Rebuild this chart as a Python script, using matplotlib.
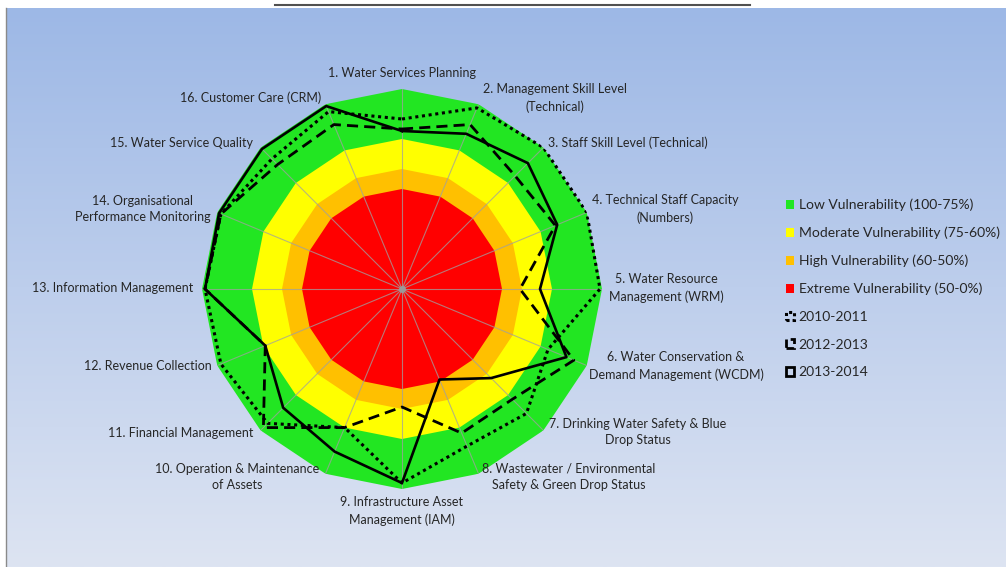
import numpy as np
import matplotlib
matplotlib.use("Agg")
import matplotlib.pyplot as plt
from matplotlib.patches import Patch
from matplotlib.lines import Line2D

W, H = 1006, 567

categories = [
    "1. Water Services Planning",
    "2. Management Skill Level\n(Technical)",
    "3. Staff Skill Level (Technical)",
    "4. Technical Staff Capacity\n(Numbers)",
    "5. Water Resource\nManagement (WRM)",
    "6. Water Conservation &\nDemand Management (WCDM)",
    "7. Drinking Water Safety & Blue\nDrop Status",
    "8. Wastewater / Environmental\nSafety & Green Drop Status",
    "9. Infrastructure Asset\nManagement (IAM)",
    "10. Operation & Maintenance\nof Assets",
    "11. Financial Management",
    "12. Revenue Collection",
    "13. Information Management",
    "14. Organisational\nPerformance Monitoring",
    "15. Water Service Quality",
    "16. Customer Care (CRM)",
]

scores_2010_2011 = [85, 98, 100, 100, 99, 79, 88, 85, 97, 75, 95, 98, 98.5, 98, 92, 96]
scores_2012_2013 = [80, 89, 80, 83, 59, 93, 78, 78, 59, 75, 98, 74, 98.5, 98, 88, 89]
scores_2013_2014 = [79, 84, 89, 84, 69, 89, 63, 49, 97, 88, 84, 74, 98.5, 99, 99, 99]

band_labels = ["Low Vulnerability (100-75%)", "Moderate Vulnerability (75-60%)",
               "High Vulnerability (60-50%)", "Extreme Vulnerability (50-0%)"]
band_upper = [100, 75, 60, 50]
band_colors = ["#22E622", "#FFFF00", "#FFC000", "#FF0000"]

series_labels = ["2010-2011", "2012-2013", "2013-2014"]

# label anchor points (pixels, centre of text block)
label_pos = [(402, 73), (555, 98), (628, 143), (665, 209), (666, 288), (676, 366),
             (638, 432), (569, 477), (402, 511), (237, 477), (181, 433), (148, 366),
             (113, 288), (143, 209), (182, 143), (251, 98)]

fig = plt.figure(figsize=(W / 100, H / 100), dpi=100)
fig.patch.set_facecolor("white")

# gradient backdrop
bg = fig.add_axes([6 / W, 0, 1 - 6 / W, (H - 8) / H])
top = np.array([157, 184, 230]) / 255
bot = np.array([221, 228, 242]) / 255
t = np.linspace(0, 1, 256)[:, None]
grad = top[None, :] * (1 - t) + bot[None, :] * t
bg.imshow(grad[:, None, :], aspect="auto", extent=[0, 1, 0, 1])
bg.set_axis_off()
fig.add_artist(Line2D([6 / W, 6 / W], [0, (H - 8) / H], color="#8a8a8a", lw=1))
fig.add_artist(Line2D([275 / W, 750 / W], [1 - 5 / H, 1 - 5 / H], color="#505050", lw=1.5))

# radar axes: centre (402, 289), radius 200 px
cx, cy, R = 402, 289, 200
ax = fig.add_axes([(cx - R) / W, 1 - (cy + R) / H, 2 * R / W, 2 * R / H], projection="polar")
ax.set_theta_zero_location("N")
ax.set_theta_direction(-1)
ax.set_ylim(0, 100)
ax.set_axis_off()

n = len(categories)
theta = np.linspace(0, 2 * np.pi, n, endpoint=False)
theta_c = np.append(theta, theta[0])

for lvl, col in zip(band_upper, band_colors):
    ax.fill(theta_c, [lvl] * (n + 1), color=col, lw=0, zorder=1)

for th in theta:
    ax.plot([th, th], [0, 100], color="#a0a0a0", lw=0.8, alpha=0.75, zorder=2)
ax.plot([0], [0], "o", color="#9a9a9a", ms=4, zorder=2)

def closed(v):
    return list(v) + [v[0]]

ax.plot(theta_c, closed(scores_2010_2011), color="black", lw=2.2, ls=(0, (1, 1.2)), zorder=3)
ax.plot(theta_c, closed(scores_2012_2013), color="black", lw=2.0, ls=(0, (4, 2.2)), zorder=4)
ax.plot(theta_c, closed(scores_2013_2014), color="black", lw=1.9, ls="-", zorder=5)

FONT = ["Lato", "DejaVu Sans"]
for lab, (x, y) in zip(categories, label_pos):
    fig.text(x / W, 1 - y / H, lab, ha="center", va="center", multialignment="center",
             fontsize=9, family=FONT, color="#262626", linespacing=1.45)

handles = [Patch(facecolor=c, edgecolor="none") for c in band_colors]
handles += [
    Patch(facecolor="none", edgecolor="black", lw=2.2, ls=(0, (1, 1))),
    Patch(facecolor="none", edgecolor="black", lw=2.0, ls=(0, (3, 1.5))),
    Patch(facecolor="none", edgecolor="black", lw=2.0, ls="-"),
]
leg = fig.legend(handles, band_labels + series_labels, loc="upper left",
                 bbox_to_anchor=(780 / W, 1 - 193 / H), frameon=False,
                 prop={"family": FONT, "size": 10}, handlelength=0.6, handleheight=0.6,
                 handletextpad=0.35, labelspacing=1.12, borderaxespad=0)
for txt in leg.get_texts():
    txt.set_color("#262626")

fig.savefig("out.png", dpi=100)
